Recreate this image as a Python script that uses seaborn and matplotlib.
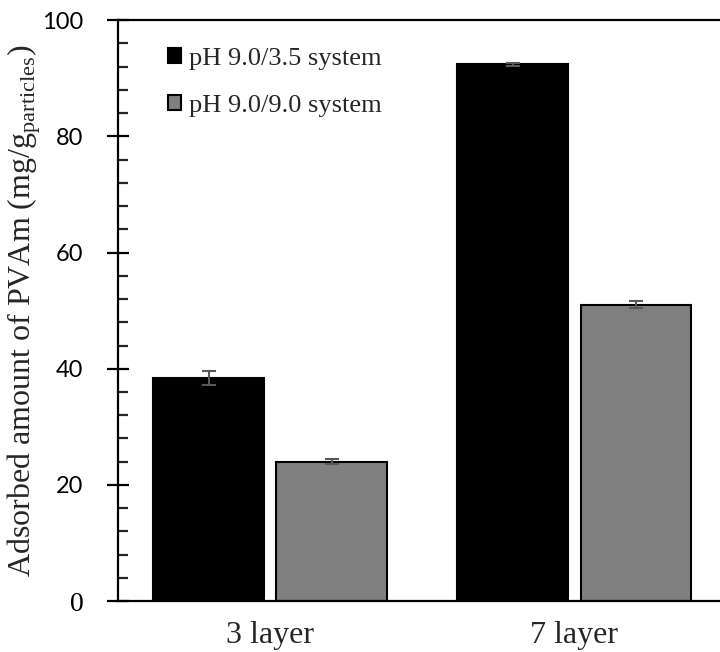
import matplotlib
matplotlib.use("Agg")
import matplotlib.pyplot as plt
import pandas as pd
import seaborn as sns
from matplotlib.ticker import MultipleLocator

layers = ["3 layer", "7 layer"]
systems = ["pH 9.0/3.5 system", "pH 9.0/9.0 system"]
acid_mean = [38.4, 92.4]      # pH 9.0/3.5
acid_err = [1.2, 0.3]
neutral_mean = [24.0, 51.0]   # pH 9.0/9.0
neutral_err = [0.4, 0.6]
y_ticks = [0, 20, 40, 60, 80, 100]

df = pd.DataFrame({
    "layer": layers * 2,
    "system": [systems[0]] * 2 + [systems[1]] * 2,
    "amount": acid_mean + neutral_mean,
})

sns.set_style("ticks")
plt.rcParams["font.family"] = ["Liberation Serif", "DejaVu Serif"]

fig = plt.figure(figsize=(7.2, 6.52), dpi=100)
ax = fig.add_axes([0.164, 0.078, 0.845, 0.891])

sns.barplot(data=df, x="layer", y="amount", hue="system", order=layers, hue_order=systems,
            palette=["#000000", "#808080"], edgecolor="black", linewidth=1.5,
            width=0.81, gap=0.1, errorbar=None, ax=ax)

# error bars on top of each bar
for cont, errs in zip(ax.containers, [acid_err, neutral_err]):
    for bar, e in zip(cont, errs):
        xc = bar.get_x() + bar.get_width() / 2
        ax.errorbar(xc, bar.get_height(), yerr=e, color="#595959", capsize=5,
                    elinewidth=1.5, capthick=1.5, fmt="none", zorder=5)

ax.set_xlim(-0.5, 1.5)
ax.set_ylim(0, 100)
ax.set_yticks(y_ticks)
ax.yaxis.set_minor_locator(MultipleLocator(4))

for side in ["left", "bottom", "top"]:
    ax.spines[side].set_linewidth(1.6)
    ax.spines[side].set_color("black")
ax.spines["right"].set_visible(False)

ax.tick_params(axis="y", which="major", direction="inout", length=16, width=1.6,
               labelsize=17, pad=17, colors="black")
ax.tick_params(axis="y", which="minor", direction="in", length=7, width=1.6)
ax.tick_params(axis="x", length=0, labelsize=23, pad=14)
for lab in ax.get_yticklabels():
    lab.set_fontfamily(["Lato", "DejaVu Sans"])
zero_lab = ax.get_yticklabels()[0]
zero_lab.set_fontfamily(["Liberation Serif", "DejaVu Serif"])
zero_lab.set_fontsize(20)

ax.set_xlabel("")
ax.set_ylabel(r"Adsorbed amount of PVAm (mg/g$_{\mathregular{particles}}$)", fontsize=23)
ax.yaxis.set_label_coords(-0.123, 0.5)

handles, labels = ax.get_legend_handles_labels()
ax.legend(handles, labels, loc="upper left", bbox_to_anchor=(0.065, 0.971), frameon=False,
          fontsize=19, handlelength=0.5, handleheight=0.5, handletextpad=0.3,
          labelspacing=0.95, borderaxespad=0)

fig.savefig("out.png", dpi=100)
